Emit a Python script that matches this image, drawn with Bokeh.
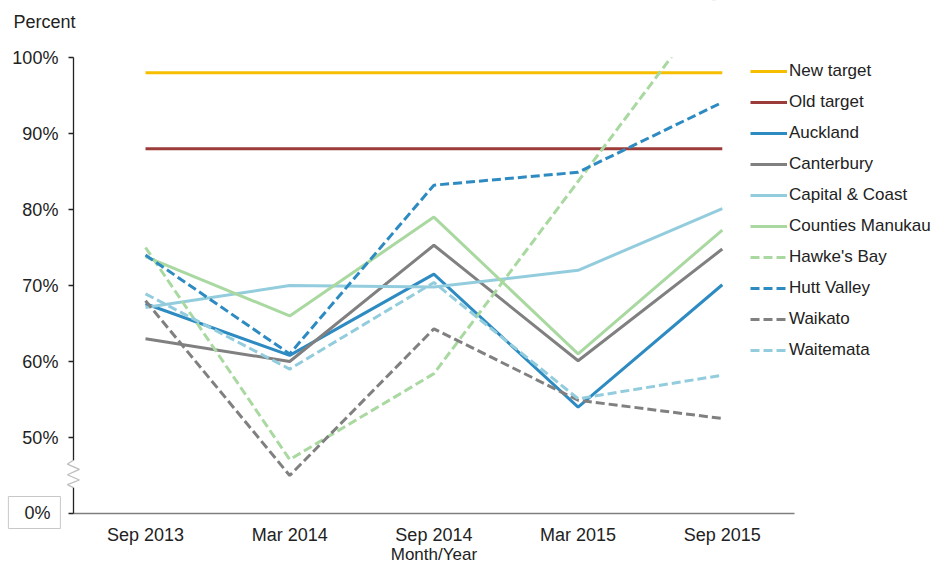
from bokeh.plotting import figure
from bokeh.models import Range1d, FixedTicker, Legend, LegendItem, Label, PolyAnnotation
from bokeh.embed import file_html
from bokeh.resources import INLINE

# ---------------- data ----------------
months = ["Sep 2013", "Mar 2014", "Sep 2014", "Mar 2015", "Sep 2015"]

new_target = [98, 98, 98, 98, 98]
old_target = [88, 88, 88, 88, 88]
auckland = [67.6, 60.8, 71.5, 54.0, 70.1]
canterbury = [63.0, 60.0, 75.3, 60.1, 74.8]
capital_coast = [67.1, 70.0, 69.8, 72.0, 80.1]
counties_manukau = [73.8, 66.0, 79.0, 61.0, 77.3]
hawkes_bay = [75.0, 47.1, 58.4, 83.7, 109.0]
hutt_valley = [74.0, 61.0, 83.2, 84.9, 94.1]
waikato = [68.0, 45.0, 64.3, 54.9, 52.5]
waitemata = [68.9, 59.0, 70.4, 55.1, 58.2]

y_ticks = [40, 50, 60, 70, 80, 90, 100]
y_tick_labels = ["", "50%", "60%", "70%", "80%", "90%", "100%"]
break_label = "0%"
y_axis_title = "Percent"
x_axis_title = "Month/Year"

series = [
    ("New target", new_target, "#F7BE00", "solid"),
    ("Old target", old_target, "#9B3C3A", "solid"),
    ("Auckland", auckland, "#2E8BC2", "solid"),
    ("Canterbury", canterbury, "#808080", "solid"),
    ("Capital & Coast", capital_coast, "#93CDDD", "solid"),
    ("Counties Manukau", counties_manukau, "#A9D9A0", "solid"),
    ("Hawke's Bay", hawkes_bay, "#A9D9A0", "9 4"),
    ("Hutt Valley", hutt_valley, "#2E8BC2", "9 4"),
    ("Waikato", waikato, "#808080", "9 4"),
    ("Waitemata", waitemata, "#93CDDD", "9 4"),
]

# ---------------- layout constants (pixels) ----------------
FONT = "Liberation Sans"
TXT = "#222222"
W, H = 935, 565
TOP = 57            # pixel row of the top of the value axis
AXIS_BOTTOM = 513   # pixel row of the x axis
CAT0 = 145          # pixel column of the first category
STEP = 144.2        # pixels between categories

y_lo, y_hi = y_ticks[0], y_ticks[-1]
ppu_y = (AXIS_BOTTOM - TOP) / (y_hi - y_lo)
y_start = y_hi - (H - TOP) / ppu_y
y_end = y_hi + TOP / ppu_y
x_start = -CAT0 / STEP
x_end = (W - CAT0) / STEP
x0 = -0.5
x1 = len(months) - 0.5

x = list(range(len(months)))
p = figure(width=W, height=H, x_range=Range1d(x_start, x_end),
           y_range=Range1d(y_start, y_end),
           output_backend="svg", toolbar_location=None,
           min_border_left=0, min_border_right=0,
           min_border_top=0, min_border_bottom=0)
p.title.visible = False
p.outline_line_color = None
p.xgrid.visible = False
p.ygrid.visible = False

# y axis
p.yaxis.fixed_location = x0
p.yaxis.bounds = (y_lo, y_hi)
p.yaxis.ticker = FixedTicker(ticks=y_ticks)
p.yaxis.major_label_overrides = {t: l for t, l in zip(y_ticks, y_tick_labels)}
p.yaxis.axis_line_color = "#222222"
p.yaxis.axis_line_width = 1.3
p.yaxis.major_tick_line_color = "#222222"
p.yaxis.major_tick_line_width = 1.3
p.yaxis.major_tick_out = 5
p.yaxis.major_tick_in = 0
p.yaxis.minor_tick_out = 0
p.yaxis.minor_tick_in = 0
p.yaxis.major_label_standoff = 10
p.yaxis.major_label_text_font = FONT
p.yaxis.major_label_text_font_size = "18px"
p.yaxis.major_label_text_color = TXT

# x axis
p.xaxis.fixed_location = y_lo
p.xaxis.bounds = (x0, x1)
p.xaxis.ticker = FixedTicker(ticks=x)
p.xaxis.major_label_overrides = {i: m for i, m in zip(x, months)}
p.xaxis.axis_line_color = "#7F7F7F"
p.xaxis.axis_line_width = 1.5
p.xaxis.major_tick_out = 0
p.xaxis.major_tick_in = 0
p.xaxis.minor_tick_out = 0
p.xaxis.minor_tick_in = 0
p.xaxis.major_label_standoff = 11
p.xaxis.major_label_text_font = FONT
p.xaxis.major_label_text_font_size = "18px"
p.xaxis.major_label_text_color = TXT

# lines
items = []
for name, vals, color, dash in series:
    r = p.line(x, vals, line_color=color, line_width=3, line_dash=dash)
    items.append(LegendItem(label=name, renderers=[r]))

# the plot area ends at 100%: hide whatever rises above it
cover_left = x0 + 1.5 / STEP
cover_right = x_end + 1
cover_top = y_end + 10
p.add_layout(PolyAnnotation(xs=[cover_left, cover_right, cover_right, cover_left],
                            ys=[y_hi, y_hi, cover_top, cover_top],
                            fill_color="white", fill_alpha=1, line_color=None))

legend = Legend(items=items, location=(750, 205), orientation="vertical",
                glyph_width=37, glyph_height=20, label_height=20, spacing=11,
                label_standoff=2, padding=0, margin=0,
                border_line_color=None, background_fill_alpha=0,
                label_text_font=FONT, label_text_font_size="17px",
                label_text_color=TXT)
p.add_layout(legend)

# captions
p.add_layout(Label(x=x0, y=y_hi, x_offset=-60, y_offset=36, text=y_axis_title,
                   text_align="left", text_baseline="middle", text_font=FONT,
                   text_font_size="18px", text_color=TXT))
p.add_layout(Label(x=(len(months) - 1) / 2, y=y_lo, y_offset=-41, text=x_axis_title,
                   text_align="center", text_baseline="middle", text_font=FONT,
                   text_font_size="17px", text_color=TXT))

# boxed "0%" label at the bottom of the broken axis
p.add_layout(Label(x=x0, y=y_lo, x_offset=-13, y_offset=1, text=break_label,
                   text_align="right", text_baseline="middle", text_font=FONT,
                   text_font_size="18px", text_color=TXT,
                   padding=dict(left=16, right=10, top=6, bottom=6),
                   border_line_color="#C8C8C8", border_line_width=1,
                   background_fill_color="white"))

# axis break zigzag
hw = 6 / STEP
gap = 1.5 / STEP
zy = [47.0, 46.5, 45.8, 45.1, 44.4, 43.8, 43.4]
zx = [x0, x0 - hw, x0 + hw, x0 - hw, x0 + hw, x0 - hw, x0]
p.add_layout(PolyAnnotation(xs=[x0 - gap, x0 + gap, x0 + gap, x0 - gap],
                            ys=[zy[0], zy[0], zy[-1], zy[-1]],
                            fill_color="white", fill_alpha=1, line_color=None))
p.add_layout(PolyAnnotation(xs=zx + zx[::-1], ys=zy + zy[::-1],
                            fill_alpha=0, line_color="#222222", line_width=1.2))

open("out.html", "w").write(file_html(p, INLINE))
